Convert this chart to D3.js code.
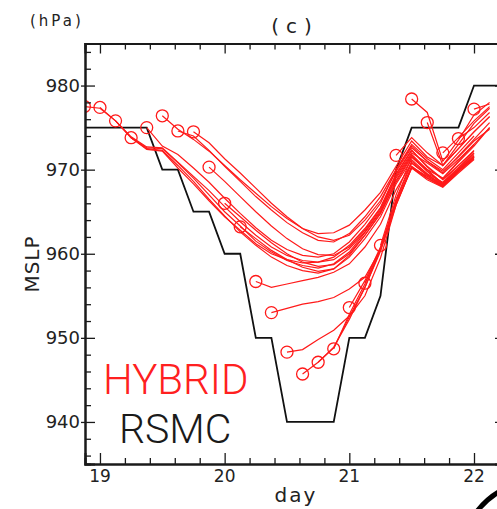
<!DOCTYPE html>
<html><head><meta charset="utf-8">
<script src="https://cdn.jsdelivr.net/npm/d3@7"></script>
<style>html,body{margin:0;padding:0;background:#fff;}svg{display:block;}</style>
</head><body>
<script>
// ---- data ----
const xTickDays = [19, 20, 21, 22];
const yTickHPa = [940, 950, 960, 970, 980];
const rsmcDay = [18.875, 19.375, 19.5, 19.625, 19.75, 19.875, 20.0, 20.125, 20.25, 20.375, 20.5, 20.875, 21.0, 21.125, 21.25, 21.375, 21.5, 21.875, 22.0, 22.25];
const rsmcHPa = [975, 975, 970, 970, 965, 965, 960, 960, 950, 950, 940, 940, 950, 950, 955, 970, 975, 975, 980, 980];
const hybridStep = 0.125; // 3-hourly
const hybridInitDay = [18.875, 19.0, 19.125, 19.25, 19.375, 19.5, 19.625, 19.75, 19.875, 20.0, 20.125, 20.25, 20.375, 20.5, 20.625, 20.75, 20.875, 21.0, 21.125, 21.25, 21.375, 21.5, 21.625, 21.75, 21.875, 22.0];
const hybridHPa = [
  [977.5, 977.3, 975.8, 973.8, 972.6, 972.5, 970.8, 969.0, 967.0, 965.0, 963.3, 961.5, 960.2, 959.2, 958.6, 958.3, 958.8, 960.2, 962.5, 965.0, 969.0, 971.8, 970.0, 968.3, 970.0, 971.5],
  [977.4, 975.8, 973.8, 972.4, 972.2, 970.2, 968.3, 966.3, 964.4, 962.8, 961.2, 960.0, 959.3, 958.9, 959.0, 959.6, 961.0, 963.0, 965.5, 969.5, 972.3, 970.3, 968.8, 970.5, 972.2],
  [975.8, 973.9, 972.7, 972.6, 970.9, 969.2, 967.5, 965.6, 963.8, 962.2, 960.8, 959.8, 959.2, 959.0, 959.3, 960.6, 962.6, 965.2, 969.2, 972.0, 970.8, 969.5, 971.2, 973.0],
  [973.8, 972.5, 972.3, 970.5, 968.6, 966.5, 964.5, 962.6, 961.0, 959.6, 958.6, 958.0, 957.7, 958.2, 959.8, 962.2, 964.8, 968.5, 971.5, 969.8, 968.2, 969.8, 971.3],
  [975.0, 972.8, 971.8, 970.2, 968.5, 966.6, 964.8, 963.1, 961.6, 960.5, 959.8, 959.6, 960.0, 961.4, 963.5, 966.0, 970.0, 972.8, 971.0, 969.8, 971.5, 973.4, 974.8],
  [976.4, 974.8, 973.6, 972.2, 970.5, 968.8, 967.2, 965.6, 964.2, 963.0, 962.4, 962.5, 963.4, 965.2, 967.3, 970.4, 973.4, 971.5, 970.5, 972.5, 974.5, 976.3],
  [974.6, 974.0, 972.3, 970.4, 968.6, 966.8, 965.2, 963.7, 962.5, 961.6, 961.4, 962.4, 964.4, 966.8, 970.0, 973.0, 971.3, 970.0, 972.0, 974.0],
  [974.5, 973.2, 971.3, 969.6, 967.8, 966.0, 964.4, 963.0, 962.0, 961.6, 962.2, 964.0, 966.3, 969.8, 972.6, 971.0, 969.6, 971.6, 973.6, 975.6],
  [970.3, 968.6, 966.8, 965.0, 963.3, 961.8, 960.6, 959.9, 959.8, 960.8, 962.8, 965.4, 969.4, 972.3, 970.4, 968.9, 970.9, 972.8, 975.0],
  [966.0, 964.4, 962.8, 961.3, 960.0, 959.0, 958.5, 958.7, 960.0, 962.2, 964.8, 968.7, 971.7, 969.8, 968.4, 970.2, 972.0],
  [963.2, 961.8, 960.4, 959.3, 958.4, 957.9, 958.2, 959.6, 961.8, 964.4, 968.3, 971.2, 969.5, 968.0, 969.9, 971.6],
  [956.7, 956.0, 956.4, 956.8, 957.2, 957.8, 958.8, 960.8, 963.5, 967.6, 970.8, 969.4, 968.2, 970.0, 971.8],
  [953.0, 953.5, 954.0, 954.3, 954.8, 955.8, 957.2, 960.5, 966.0, 970.2, 969.0, 968.0, 969.8, 971.5],
  [948.3, 948.6, 949.8, 950.9, 952.6, 955.0, 959.5, 965.8, 970.3, 969.2, 968.1, 970.0, 971.6],
  [945.7, 947.1, 948.8, 952.5, 956.0, 960.5, 966.0, 970.3, 969.0, 968.0, 969.8, 971.4],
  [947.1, 948.9, 952.2, 956.0, 960.3, 965.8, 970.2, 968.8, 967.9, 969.6, 971.2],
  [948.7, 952.8, 956.4, 960.6, 966.0, 970.4, 969.0, 968.0, 969.8, 971.5],
  [953.6, 956.8, 960.8, 966.3, 970.8, 969.3, 968.3, 970.2, 972.0],
  [956.5, 960.5, 966.5, 971.0, 969.5, 968.5, 970.5, 972.3],
  [961.0, 967.0, 971.5, 970.0, 969.0, 971.0, 973.0, 975.0],
  [971.7, 973.8, 972.0, 970.5, 972.5, 974.5, 976.3],
  [978.4, 976.8, 971.0, 973.5, 976.5, 978.0],
  [975.6, 970.5, 973.0, 975.5, 977.3],
  [972.0, 973.8, 975.8, 977.5],
  [973.7, 975.0, 976.8],
  [977.2, 977.8]
];
const legendLabels = ["HYBRID", "RSMC"];

// ---- layout ----
const W = 497, H = 509;
const L = 85, R = 505, T = 43.5, B = 464;
const svg = d3.select("body").append("svg").attr("width", W).attr("height", H);
const x = d3.scaleLinear().domain([18.88, 22.2486]).range([L, R]);
const y = d3.scaleLinear().domain([935, 985]).range([B, T]);

svg.append("defs").append("clipPath").attr("id", "clip")
  .append("rect").attr("x", L).attr("y", T).attr("width", R - L).attr("height", B - T);

const axisColor = "#1a1a1a";
const font = "'DejaVu Sans', sans-serif";

// RSMC line
const line = d3.line().x(d => x(d[0])).y(d => y(d[1]));
const plot = svg.append("g").attr("clip-path", "url(#clip)");
plot.append("path")
  .attr("d", line(rsmcDay.map((d, i) => [d, rsmcHPa[i]])))
  .attr("fill", "none").attr("stroke", "#111").attr("stroke-width", 1.8);

// Hybrid runs
hybridHPa.forEach((vals, j) => {
  const pts = vals.map((v, i) => [hybridInitDay[j] + i * hybridStep, v]);
  plot.append("path").attr("d", line(pts))
    .attr("fill", "none").attr("stroke", "#ff1a1a").attr("stroke-width", 1.2);
});
hybridHPa.forEach((vals, j) => {
  plot.append("circle").attr("cx", x(hybridInitDay[j])).attr("cy", y(vals[0])).attr("r", 6)
    .attr("fill", "none").attr("stroke", "#ff1a1a").attr("stroke-width", 1.3);
});

// axes
const minorX = d3.range(19, 22.21, 0.2).map(v => +v.toFixed(1)).filter(v => !xTickDays.includes(v));
const minorY = d3.range(936, 985, 2).filter(v => !yTickHPa.includes(v));

const gB = svg.append("g").attr("transform", `translate(0,${B})`)
  .call(d3.axisTop(x).tickValues(xTickDays).tickSize(11).tickFormat(""));
const gBm = svg.append("g").attr("transform", `translate(0,${B})`)
  .call(d3.axisTop(x).tickValues(minorX).tickSize(6).tickFormat(""));
const gT = svg.append("g").attr("transform", `translate(0,${T})`)
  .call(d3.axisBottom(x).tickValues(xTickDays).tickSize(10).tickFormat(""));
const gTm = svg.append("g").attr("transform", `translate(0,${T})`)
  .call(d3.axisBottom(x).tickValues(minorX).tickSize(6).tickFormat(""));
const gL = svg.append("g").attr("transform", `translate(${L},0)`)
  .call(d3.axisRight(y).tickValues(yTickHPa).tickSize(10).tickFormat(""));
const gLm = svg.append("g").attr("transform", `translate(${L},0)`)
  .call(d3.axisRight(y).tickValues(minorY).tickSize(6).tickFormat(""));
const gR = svg.append("g").attr("transform", `translate(${R},0)`)
  .call(d3.axisLeft(y).tickValues(yTickHPa).tickSize(10).tickFormat(""));
const gRm = svg.append("g").attr("transform", `translate(${R},0)`)
  .call(d3.axisLeft(y).tickValues(minorY).tickSize(6).tickFormat(""));
[gB, gBm, gT, gTm, gL, gLm, gR, gRm].forEach(g => {
  g.selectAll(".domain").attr("stroke", axisColor).attr("stroke-width", 2);
  g.selectAll(".tick line").attr("stroke", axisColor).attr("stroke-width", 1.3);
});
// outward stubs of major left ticks
gL.selectAll(".tick").append("line").attr("x1", -4).attr("x2", 0).attr("stroke", axisColor).attr("stroke-width", 1.3);

// tick labels
svg.append("g").selectAll("text").data(xTickDays).join("text")
  .attr("x", d => x(d)).attr("y", 482).attr("text-anchor", "middle")
  .attr("font-family", font).attr("font-size", 17).attr("fill", "#222").text(d => d);
svg.append("g").selectAll("text").data(yTickHPa).join("text")
  .attr("x", 80).attr("y", d => y(d) + 6.5).attr("text-anchor", "end")
  .attr("font-family", font).attr("font-size", 18).attr("fill", "#222").text(d => d);

// titles
svg.append("text").attr("x", 295).attr("y", 33).attr("text-anchor", "middle")
  .attr("font-family", font).attr("font-size", 20).attr("letter-spacing", 7).attr("fill", "#222").text("(c)");
svg.append("text").attr("x", 30).attr("y", 26)
  .attr("font-family", font).attr("font-size", 15).attr("letter-spacing", 3).attr("fill", "#222").text("(hPa)");
svg.append("text").attr("x", 296).attr("y", 502).attr("text-anchor", "middle")
  .attr("font-family", font).attr("font-size", 20).attr("letter-spacing", 2).attr("fill", "#222").text("day");
svg.append("text").attr("transform", "translate(39,264) rotate(-90)").attr("text-anchor", "middle")
  .attr("font-family", font).attr("font-size", 20).attr("letter-spacing", 1).attr("fill", "#222").text("MSLP");

// legend
svg.append("text").attr("x", 103).attr("y", 394)
  .attr("font-family", "Roboto, 'DejaVu Sans', sans-serif").attr("font-weight", 300).attr("font-size", 42)
  .attr("fill", "#ff2020").text(legendLabels[0]);
svg.append("text").attr("x", 119).attr("y", 443)
  .attr("font-family", "Roboto, 'DejaVu Sans', sans-serif").attr("font-weight", 300).attr("font-size", 41)
  .attr("fill", "#1a1a1a").text(legendLabels[1]);

// corner artifact arc (part of a neighbouring panel)
svg.append("path").attr("d", d3.arc()({innerRadius: 77, outerRadius: 82, startAngle: -1.05, endAngle: -0.3}))
  .attr("transform", "translate(540,560)").attr("fill", "#000");
</script>
</body></html>
